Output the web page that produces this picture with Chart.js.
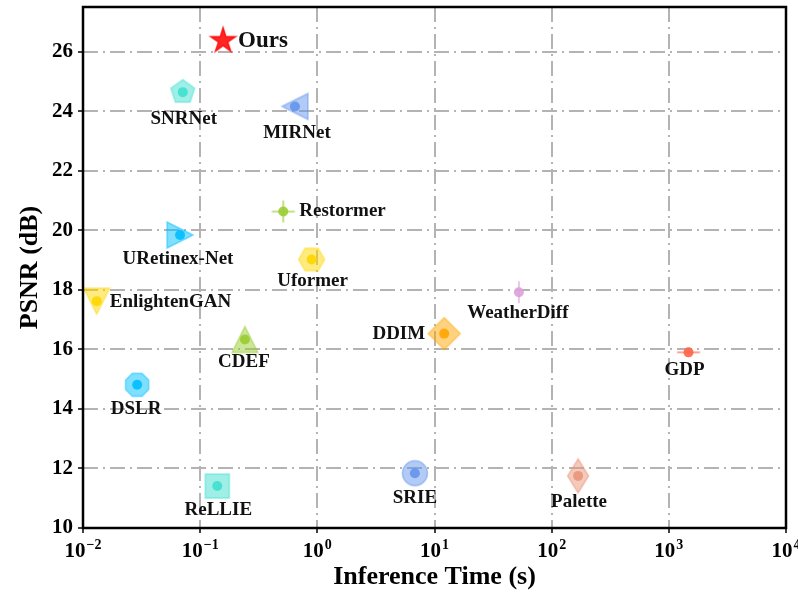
<!DOCTYPE html>
<html><head><meta charset="utf-8">
<script src="https://cdn.jsdelivr.net/npm/chart.js@4.4.0/dist/chart.umd.min.js"></script>
<style>html,body{margin:0;padding:0;background:#fff}#wrap{width:798px;height:593px;position:relative}</style>
</head><body><div id="wrap"><canvas id="c" width="798" height="593"></canvas></div>
<script>
// ---- data ----
const methods = ['Ours','SNRNet','MIRNet','Restormer','URetinex-Net','Uformer','EnlightenGAN','CDEF','DSLR','ReLLIE','DDIM','WeatherDiff','GDP','SRIE','Palette'];
const inferenceTime = [0.157,0.071,0.644,0.512,0.0673,0.893,0.0131,0.241,0.029,0.14,12.1,52.5,1472,6.8,168];
const psnr = [26.37,24.64,24.16,20.63,19.84,19.02,17.62,16.33,14.81,11.41,16.53,17.92,15.90,11.84,11.75];
const xTickExponents = [-2,-1,0,1,2,3,4];
const yTicks = [10,12,14,16,18,20,22,24,26];

// ---- styles ----
const colors = ['#ff0000','#40e0d0','#6495ed','#9acd32','#00bfff','#ffd700','#ffd700','#9acd32','#00bfff','#40e0d0','#ffa500','#dda0dd','#ff6347','#6495ed','#e9967a'];
const shapes = ['star','pentagon','triLeft','plus','triRight','hexagon','triDown','triUp','octagon','square','diamond','vline','hline','circle','thinDiamond'];
const labelPos = [[15,0,'left'],[1,27,'center'],[2,27,'center'],[16,0,'left'],[-2,24,'center'],[1,22,'center'],[13,1,'left'],[-1,23,'center'],[-1,24,'center'],[1,24,'center'],[-19,1,'right'],[-1,21,'center'],[-4,18,'center'],[0,25,'center'],[1,26,'center']];
const FONT = "'Liberation Serif', 'Times New Roman', serif";

function rgba(hex, a){const n=parseInt(hex.slice(1),16);return `rgba(${n>>16&255},${n>>8&255},${n&255},${a})`;}
function poly(ctx, pts){ctx.beginPath();pts.forEach((p,i)=>i?ctx.lineTo(p[0],p[1]):ctx.moveTo(p[0],p[1]));ctx.closePath();}
function regular(n, r, start, c){const pts=[];for(let k=0;k<n;k++){const a=(start+k*360/n)*Math.PI/180;pts.push([c+r*Math.cos(a),c-r*Math.sin(a)]);}return pts;}
function makeMarker(shape, color){
  const S=44, c=S/2;
  const cv=document.createElement('canvas'); cv.width=S; cv.height=S;
  const ctx=cv.getContext('2d');
  ctx.fillStyle=rgba(color,0.5); ctx.strokeStyle=rgba(color,0.5); ctx.lineWidth=1.5;
  let pts=null;
  switch(shape){
    case 'star': {pts=[];for(let k=0;k<10;k++){const r=k%2?4.8:13;const a=(90+k*36)*Math.PI/180;pts.push([c+r*Math.cos(a),c-r*Math.sin(a)]);}
      ctx.fillStyle=rgba(color,0.85); ctx.strokeStyle=rgba(color,0.85); break;}
    case 'pentagon': pts=regular(5,12.5,90,c); break;
    case 'hexagon': pts=regular(6,13,0,c); break;
    case 'octagon': pts=regular(8,12.5,22.5,c); break;
    case 'square': pts=[[c-12,c-12],[c+12,c-12],[c+12,c+12],[c-12,c+12]]; break;
    case 'diamond': pts=regular(4,16,0,c); break;
    case 'thinDiamond': pts=[[c,c-17],[c+10.5,c],[c,c+17],[c-10.5,c]]; break;
    case 'triUp': pts=[[c,c-13],[c+13,c+13],[c-13,c+13]]; break;
    case 'triDown': pts=[[c,c+13],[c+13,c-13],[c-13,c-13]]; break;
    case 'triLeft': pts=[[c-13,c],[c+13,c-13],[c+13,c+13]]; break;
    case 'triRight': pts=[[c+13,c],[c-13,c-13],[c-13,c+13]]; break;
  }
  if(pts){poly(ctx,pts);ctx.fill();ctx.stroke();return cv;}
  if(shape==='circle'){ctx.beginPath();ctx.arc(c,c,12.5,0,Math.PI*2);ctx.fill();ctx.stroke();return cv;}
  ctx.strokeStyle=rgba(color,0.6); ctx.lineWidth=2; ctx.beginPath();
  if(shape==='plus'||shape==='hline'){ctx.moveTo(c-11.5,c);ctx.lineTo(c+11.5,c);}
  if(shape==='plus'||shape==='vline'){ctx.moveTo(c,c-11);ctx.lineTo(c,c+11);}
  ctx.stroke(); return cv;
}

const points = methods.map((m,i)=>({x: inferenceTime[i], y: psnr[i]}));
const markerImgs = shapes.map((s,i)=>makeMarker(s, colors[i]));
const dotColors = colors.map(c=>rgba(c,0.9));
const dotRadii = shapes.map(s=>s==='star'?0:5);

const framePlugin = {
  id:'frame',
  afterDatasetsDraw(chart){
    const {ctx, chartArea:a} = chart;
    ctx.save(); ctx.strokeStyle='#000'; ctx.lineWidth=2.5;
    ctx.strokeRect(a.left, a.top, a.right-a.left, a.bottom-a.top);
    ctx.restore();
    const xs=chart.scales.x, ys=chart.scales.y;
    ctx.save(); ctx.fillStyle='#111'; ctx.textBaseline='middle';
    methods.forEach((m,i)=>{
      const px=xs.getPixelForValue(inferenceTime[i]), py=ys.getPixelForValue(psnr[i]);
      const [dx,dy,al]=labelPos[i];
      ctx.font = (i===0? 'bold 23px ':'bold 19px ') + FONT;
      ctx.textAlign=al;
      ctx.fillText(m, px+dx, py+dy);
    });
    ctx.restore();
    // x tick labels: base 10 with superscript exponent
    ctx.save(); ctx.fillStyle='#000'; ctx.textBaseline='alphabetic'; ctx.textAlign='left';
    const base = 'bold 21px '+FONT, expf = 'bold 14px '+FONT;
    xTickExponents.forEach(e=>{
      const px = xs.getPixelForValue(Math.pow(10,e));
      const es = (e<0?'\u2212':'')+Math.abs(e);
      ctx.font=base; const wb=ctx.measureText('10').width;
      ctx.font=expf; const we=ctx.measureText(es).width;
      const x0 = px-(wb+we+1)/2, by = a.bottom+29;
      ctx.font=base; ctx.fillText('10', x0, by);
      ctx.font=expf; ctx.fillText(es, x0+wb+1, by-8);
    });
    ctx.restore();
  }
};

const gridCommon = {color:'#b3b3b3', lineWidth:2, tickColor:'#000', tickLength:5, tickWidth:1.5};
new Chart(document.getElementById('c'), {
  type:'scatter',
  data:{datasets:[
    {label:'dots', data:points, pointStyle:'circle', pointRadius:dotRadii, backgroundColor:dotColors, borderWidth:0, order:0},
    {label:'markers', data:points, pointStyle:markerImgs, pointRadius:12, borderWidth:0, order:1}
  ]},
  options:{
    responsive:false, animation:false, events:[],
    layout:{autoPadding:false, padding:{top:7,right:12,left:0,bottom:0}},
    plugins:{legend:{display:false}, tooltip:{enabled:false}},
    scales:{
      x:{type:'logarithmic', min:0.01, max:10000,
        afterBuildTicks:s=>{s.ticks=xTickExponents.map(e=>({value:Math.pow(10,e)}));},
        afterFit:s=>{s.height=65; s.paddingLeft=0; s.paddingRight=0;},
        grid:gridCommon, border:{display:false, dash:[15,5,2,5]},
        ticks:{autoSkip:false, maxRotation:0, padding:2, color:'rgba(0,0,0,0)', font:{family:FONT, size:21, weight:'bold'},
          callback:v=>'10'},
        title:{display:true, text:'Inference Time (s)', color:'#000', font:{family:FONT, size:26, weight:'bold', lineHeight:1}, padding:{top:0,bottom:3}}
      },
      y:{type:'linear', min:10, max:27.5,
        afterBuildTicks:s=>{s.ticks=yTicks.map(v=>({value:v}));},
        afterFit:s=>{s.width=83; s.paddingTop=0; s.paddingBottom=0;},
        grid:gridCommon, border:{display:false, dash:[15,5,2,5]},
        ticks:{padding:5, color:'#000', font:{family:FONT, size:21, weight:'bold'}, callback:v=>String(v)},
        title:{display:true, text:'PSNR (dB)', color:'#000', font:{family:FONT, size:26, weight:'bold', lineHeight:1}, padding:{top:17,bottom:0}}
      }
    }
  },
  plugins:[framePlugin]
});
</script></body></html>
